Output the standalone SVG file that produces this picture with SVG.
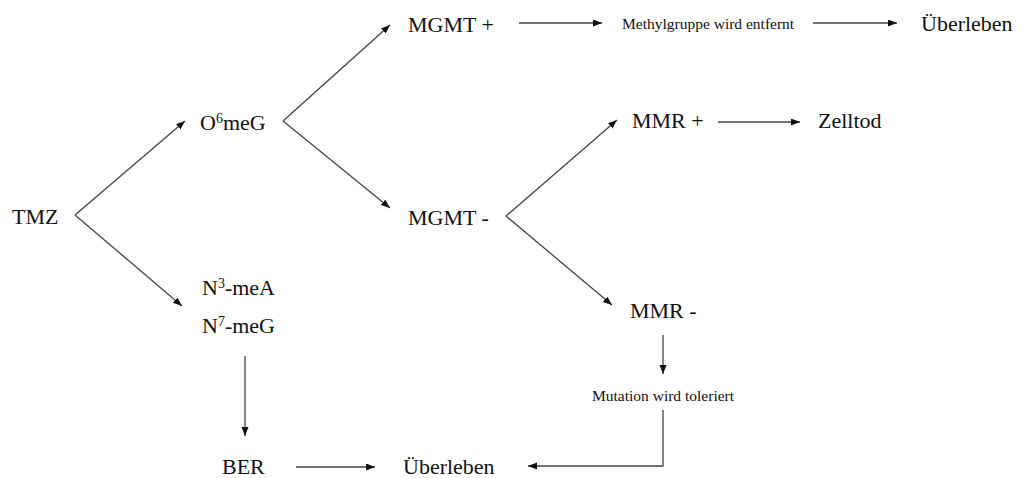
<svg xmlns="http://www.w3.org/2000/svg" width="1026" height="478" viewBox="0 0 1026 478">
<style>
text{font-family:'Liberation Serif','Times New Roman','DejaVu Serif',Times,serif;fill:#111}
.t{font-size:22px}
.s{font-size:15.5px}
.sup{font-size:14px}
.c{fill:none;stroke:#444;stroke-width:1.3;marker-end:url(#ah)}
</style>
<defs>
<marker id="ah" markerUnits="userSpaceOnUse" markerWidth="10" markerHeight="8" refX="9" refY="3.5" orient="auto">
<path d="M0,0 L9,3.5 L0,7 z" fill="#111"/>
</marker>
</defs>
<rect width="1026" height="478" fill="#fff"/>
<g id="connectors">
<path class="c" d="M75,215 L185,121"/>
<path class="c" d="M75,215 L182,306"/>
<path class="c" d="M283,121 L390,25"/>
<path class="c" d="M283,121 L390,208"/>
<path class="c" d="M506,216 L617,120"/>
<path class="c" d="M506,216 L612,305"/>
<path class="c" d="M718,122 L800,122"/>
<path class="c" d="M519,23 L602,23"/>
<path class="c" d="M813,23 L897,23"/>
<path class="c" d="M245,356 L245,436"/>
<path class="c" d="M296,467 L375,467"/>
<path class="c" d="M663,335 L663,374"/>
<path class="c" d="M663,410 L663,466 L528,466"/>
</g>
<g id="tmz"><text class="t" x="12" y="224" font-family="Liberation Serif, serif">TMZ</text></g>
<g id="o6meg"><text class="t" x="200" y="130">O<tspan class="sup" dy="-7">6</tspan><tspan dy="7">meG</tspan></text></g>
<g id="n3n7"><text class="t" x="202" y="295">N<tspan class="sup" dy="-7">3</tspan><tspan dy="7">-meA</tspan></text><text class="t" x="202" y="333">N<tspan class="sup" dy="-7">7</tspan><tspan dy="7">-meG</tspan></text></g>
<g id="mgmtplus"><text class="t" x="408" y="32">MGMT +</text></g>
<g id="mgmtminus"><text class="t" x="408" y="225">MGMT -</text></g>
<g id="methyl"><text class="s" x="622" y="29">Methylgruppe wird entfernt</text></g>
<g id="ueberleben1"><text class="t" x="921" y="31">Überleben</text></g>
<g id="mmrplus"><text class="t" x="632" y="128">MMR +</text></g>
<g id="zelltod"><text class="t" x="818" y="128">Zelltod</text></g>
<g id="mmrminus"><text class="t" x="630" y="318">MMR -</text></g>
<g id="mutation"><text class="s" x="592" y="401">Mutation wird toleriert</text></g>
<g id="ber"><text class="t" x="222" y="474">BER</text></g>
<g id="ueberleben2"><text class="t" x="403" y="474">Überleben</text></g>
</svg>
